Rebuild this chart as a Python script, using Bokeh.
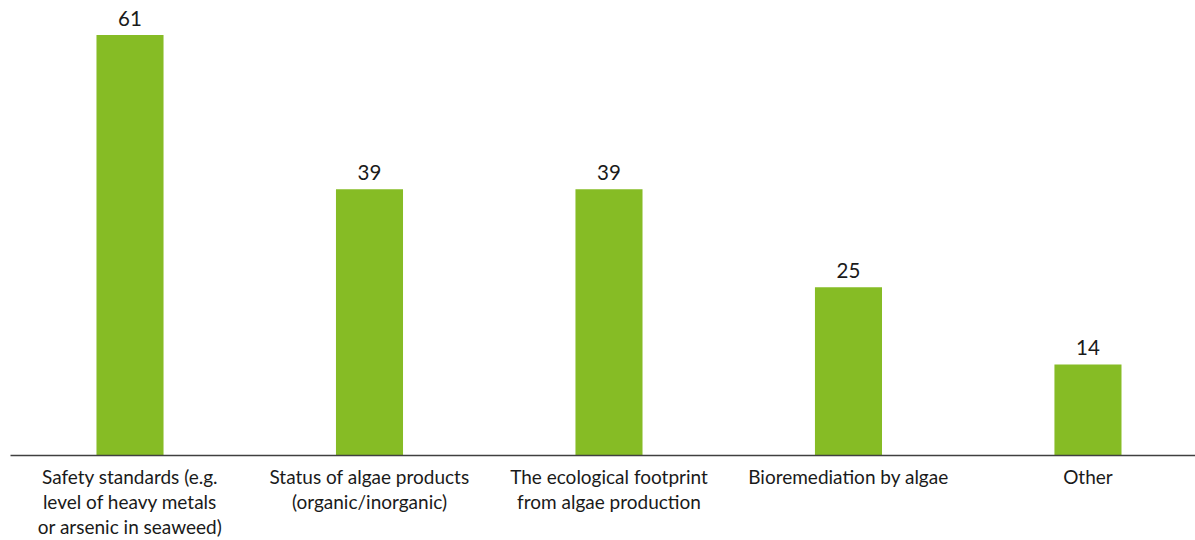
from bokeh.plotting import figure
from bokeh.models import ColumnDataSource, Range1d, FixedTicker
from bokeh.core.properties import value
from bokeh.embed import file_html
from bokeh.resources import INLINE

categories = [
    "Safety standards (e.g.\nlevel of heavy metals\nor arsenic in seaweed)",
    "Status of algae products\n(organic/inorganic)",
    "The ecological footprint\nfrom algae production",
    "Bioremediation by algae",
    "Other",
]
values = [61, 39, 39, 25, 14]
labels = [str(v) for v in values]

xs = list(range(len(categories)))
src = ColumnDataSource(dict(x=xs, top=values, lab=labels))

p = figure(frame_width=1185, frame_height=455, output_backend="svg", toolbar_location=None,
           x_range=Range1d(-0.499, 4.449), y_range=Range1d(1.0, 65.94),
           min_border_left=10, min_border_right=0, min_border_top=0, min_border_bottom=85)

p.vbar(x="x", top="top", bottom=0, width=0.28, source=src, color="#86BC25", line_color=None)
p.text(x="x", y="top", text="lab", source=src, text_align="center", text_baseline="alphabetic",
       y_offset=-17, text_font=value("Lato"), text_font_size="20.5px", text_color="#1a1a1a")

p.xaxis.ticker = FixedTicker(ticks=xs)
p.xaxis.major_label_overrides = {i: c for i, c in enumerate(categories)}
p.xaxis.major_label_text_font = "Lato"
p.xaxis.major_label_text_font_size = "19px"
p.xaxis.major_label_text_line_height = 1.1
p.xaxis.major_label_text_color = "#1a1a1a"
p.xaxis.major_label_standoff = 3
p.xaxis.major_tick_line_color = None
p.xaxis.minor_tick_line_color = None
p.xaxis.axis_line_color = "#404040"
p.xaxis.axis_line_width = 1.5
p.yaxis.visible = False
p.xgrid.visible = False
p.ygrid.visible = False
p.outline_line_color = None

open("out.html", "w").write(file_html(p, INLINE))
